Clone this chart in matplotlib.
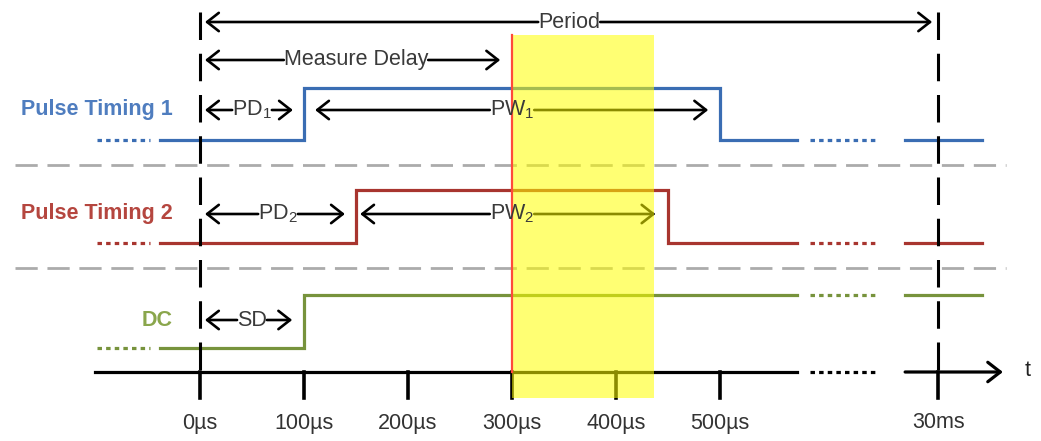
import matplotlib
matplotlib.use("Agg")
import matplotlib.pyplot as plt
from matplotlib.patches import FancyArrowPatch, Rectangle

plt.rcParams['font.family'] = ['Liberation Sans', 'DejaVu Sans']
plt.rcParams['mathtext.fontset'] = 'custom'
plt.rcParams['mathtext.rm'] = 'Liberation Sans'
plt.rcParams['mathtext.default'] = 'regular'

# ---- data (times in µs; the 30 ms period is drawn after an axis break) ----
tick_values = [0, 100, 200, 300, 400, 500, 710]
tick_labels = ['0µs', '100µs', '200µs', '300µs', '400µs', '500µs', '30ms']
period_pos = 710          # display position of 30 ms (broken axis)
measure_delay = 300
measure_end = 437
pd1, pw1 = 100, 400
pd2, pw2 = 150, 300
sd = 100
signal_names = ['Pulse Timing 1', 'Pulse Timing 2', 'DC']
signal_colors = ['#3A6DB3', '#A8352F', '#77933C']
label_colors = ['#4F7DBF', '#B5463F', '#8AA64C']
wave_start = -38
wave_break = 574
dot_start, dot_end = 587, 649
resume = 678
wave_end = 752
left_dot = (-99, -48)
axis_start = -101
axis_end = 772

# ---- figure ----
W, H = 1041, 441
fig = plt.figure(figsize=(W / 100, H / 100), dpi=100)
ax = fig.add_axes([0, 0, 1, 1])
ax.set_xlim(-200 / 1.04, (W - 200) / 1.04)
ax.set_ylim(H, 0)
ax.axis('off')

LW = 2.3
FS = 15.5

# levels (pixel rows)
rows = [(140, 88, 110), (243, 190, 214), (348, 295, 320)]
sep_rows = [165, 268]
axis_y = 372

# gray separators
for y in sep_rows:
    ax.plot([-178, 775], [y, y], color='#ABABAB', lw=2.0, dashes=(8, 3.5), zorder=1)

# vertical dashed lines
for x in [0, period_pos]:
    ax.plot([x, x], [12, axis_y], color='black', lw=2.2, dashes=(9, 4.5), zorder=3)

# waveforms
edges = [(pd1, pd1 + pw1), (pd2, pd2 + pw2), (sd, None)]
for (low, high, lab_y), (t_on, t_off), col, lcol, name in zip(rows, edges, signal_colors, label_colors, signal_names):
    if t_off is None:
        xs = [wave_start, t_on, t_on, wave_break]
        ys = [low, low, high, high]
        tail = high
    else:
        xs = [wave_start, t_on, t_on, t_off, t_off, wave_break]
        ys = [low, low, high, high, low, low]
        tail = low
    ax.plot(xs, ys, color=col, lw=LW, solid_joinstyle='miter', zorder=2)
    ax.plot([dot_start, dot_end], [tail, tail], color=col, lw=LW, dashes=(1.4, 1.3), zorder=2)
    ax.plot([resume, wave_end], [tail, tail], color=col, lw=LW, zorder=2)
    ax.plot(list(left_dot), [low, low], color=col, lw=LW, dashes=(1.4, 1.3), zorder=2)
    ax.text(-26, lab_y, name, color=lcol, fontsize=FS, fontweight='bold', ha='right', va='center')

# time axis
ax.plot([axis_start, wave_break], [axis_y, axis_y], color='black', lw=LW, zorder=3)
ax.plot([dot_start, dot_end], [axis_y, axis_y], color='black', lw=LW, dashes=(1.4, 1.3), zorder=3)
ax.add_patch(FancyArrowPatch((resume, axis_y), (axis_end, axis_y),
                             arrowstyle='->,head_length=0.45,head_width=0.35', mutation_scale=20,
                             lw=LW, color='black', shrinkA=0, shrinkB=0, zorder=3))
ax.text(axis_end + 24, axis_y - 2, 't', fontsize=FS, ha='center', va='center', color='#222222')
for tv, tl in zip(tick_values, tick_labels):
    ax.plot([tv, tv], [axis_y, 398], color='black', lw=2.6, zorder=3)
    ax.text(tv, 423, tl, fontsize=FS, ha='center', va='center', color='#333333')

# measurement window
ax.add_patch(Rectangle((measure_delay, 35), measure_end - measure_delay, 398 - 35,
                       facecolor='#FFFF00', edgecolor='none', alpha=0.55, zorder=4))
ax.plot([measure_delay, measure_delay], [35, axis_y], color='#FF4A3A', lw=1.6, zorder=5)

# dimension arrows
fig.canvas.draw()
renderer = fig.canvas.get_renderer()
inv = ax.transData.inverted()


def span(x0, x1, y, label, sa=3.6, sb=8.0):
    xm = (x0 + x1) / 2
    t = ax.text(xm, y, label, fontsize=FS, ha='center', va='center', color='#3A3A3A', zorder=6)
    bb = t.get_window_extent(renderer)
    lx = inv.transform((bb.x0, 0))[0]
    rx = inv.transform((bb.x1, 0))[0]
    style = '->,head_length=0.42,head_width=0.33'
    ax.add_patch(FancyArrowPatch((lx, y), (x0, y), arrowstyle=style, mutation_scale=20,
                                 lw=1.9, color='black', shrinkA=0, shrinkB=sa, zorder=3))
    ax.add_patch(FancyArrowPatch((rx, y), (x1, y), arrowstyle=style, mutation_scale=20,
                                 lw=1.9, color='black', shrinkA=0, shrinkB=sb, zorder=3))


span(0, period_pos, 22, 'Period', 3.6, 4.5)
span(0, measure_delay, 60, 'Measure Delay', 3.6, 8.5)
span(0, pd1, rows[0][2], 'PD$_1$', 3.6, 8.0)
span(pd1, pd1 + pw1, rows[0][2], 'PW$_1$', 8.0, 8.5)
span(0, pd2, rows[1][2], 'PD$_2$', 3.6, 8.0)
span(pd2, pd2 + pw2, rows[1][2], 'PW$_2$', 3.0, 9.0)
span(0, sd, rows[2][2], 'SD', 3.6, 8.5)

fig.savefig('out.png', dpi=100)
